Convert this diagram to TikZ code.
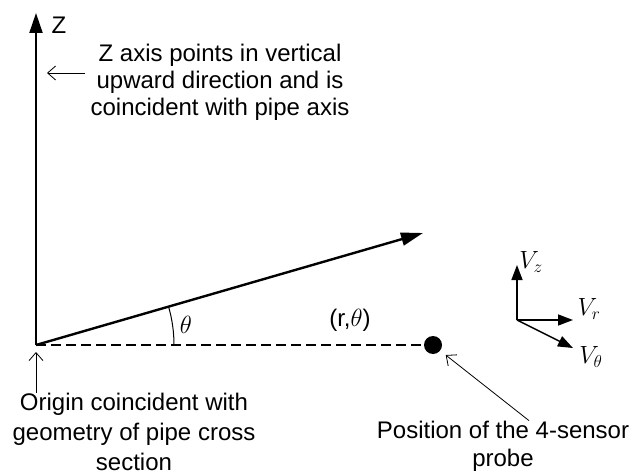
\documentclass[tikz,border=0pt]{standalone}
\usepackage{fontspec}
\setmainfont{Liberation Sans}
\usetikzlibrary{arrows.meta,positioning}

\begin{document}
\begin{tikzpicture}[
  x=1pt, y=1pt,
  font=\fontsize{24}{28}\selectfont,
  axis/.style={line width=2pt, -{Triangle[length=20pt,width=13pt]}},
  radial/.style={line width=2.4pt, -{Triangle[length=22pt,width=13pt]}},
  comp/.style={line width=1.5pt, -{Triangle[length=15pt,width=11pt]}},
  pointer/.style={line width=0.8pt, -{Straight Barb[length=8pt,width=14pt]}},
  lbl/.style={inner sep=0pt, align=center},
]
\useasboundingbox (0,0) rectangle (632,475);

% axes and position vector
\coordinate (o) at (36,130);
\coordinate (ztip) at (36,462);
\coordinate (rtip) at (423,242);
\node[circle, fill, inner sep=0pt, minimum size=18pt] (probe) at (433,130) {};
\draw[axis] (o) -- (ztip);
\draw[radial] (o) -- (rtip);
\draw[line width=1.2pt, dash pattern=on 10pt off 5pt] (o) -- (probe);
\draw[line width=1pt] ([xshift=138pt]o) arc[start angle=0, end angle=16.1, radius=138];

\node[lbl] (zlabel) at (59,450) {Z};
\node[lbl] (thetalabel) at (186,150) {$\theta$};
\node[lbl] (rtheta) at (350,155) {(r,$\theta$)};

% notes
\node[lbl, font=\fontsize{24}{27}\selectfont] (zaxistext) at (220,393)
  {Z axis points in vertical\\upward direction and is\\coincident with pipe axis};
\coordinate (zarrowtail) at (85,402);
\coordinate (zarrowhead) at (47,402);
\draw[pointer] (zarrowtail) -- (zarrowhead);

\node[lbl, font=\fontsize{24}{30}\selectfont] (origintext) at (134,43)
  {Origin coincident with\\geometry of pipe cross\\section};
\draw[pointer, shorten >=7pt] (origintext.north -| o) -- (o);

\node[lbl] (probetext) at (503,29) {Position of the 4-sensor\\probe};
\draw[pointer, shorten >=7pt] ([xshift=26pt]probetext.north) -- (probe);

% velocity components
\coordinate (vbase) at (517,155);
\coordinate (vz) at (517,210);
\coordinate (vr) at (573,155);
\coordinate (vt) at (573,127);
\draw[comp] (vbase) -- (vz);
\draw[comp] (vbase) -- (vr);
\draw[comp] (vbase) -- (vt);
\node[lbl] (vzlabel) at (531,213) {$V_z$};
\node[lbl] (vrlabel) at (589,166) {$V_r$};
\node[lbl] (vtlabel) at (591,118) {$V_\theta$};
\end{tikzpicture}
\end{document}
